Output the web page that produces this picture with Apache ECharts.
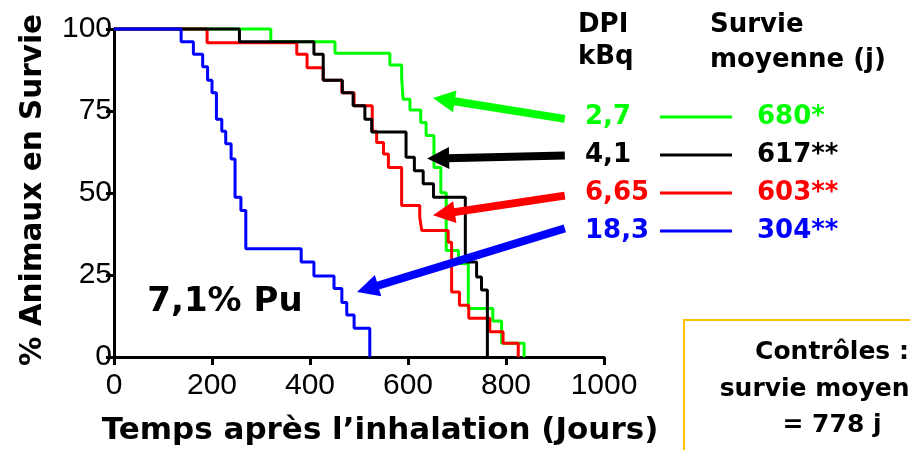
<!DOCTYPE html>
<html><head><meta charset="utf-8">
<script src="https://cdn.jsdelivr.net/npm/echarts@6/dist/echarts.min.js"></script>
<style>html,body{margin:0;padding:0;background:#fff}#c{width:910px;height:450px}</style>
</head><body><div id="c"></div>
<script>
// ---- data ----
const xTicks = [0, 200, 400, 600, 800, 1000];
const yTicks = [0, 25, 50, 75, 100];
const doseLabels = ['2,7', '4,1', '6,65', '18,3'];
const meanSurvival = ['680*', '617**', '603**', '304**'];
const groupColors = ['#00FF00', '#000000', '#FF0000', '#0000FF'];

const days_27  = [0, 320, 451, 563, 587, 590, 604, 626, 637, 653, 667, 678, 703, 723, 773, 791, 837];
const surv_27  = [100, 96.1, 92.6, 89.0, 85.2, 78.6, 75.3, 71.5, 67.5, 57.8, 50.1, 32.5, 28.5, 14.8, 11.0, 4.2, 0];

const days_41  = [0, 256, 408, 427, 466, 488, 512, 526, 596, 613, 631, 652, 717, 740, 750, 762];
const surv_41  = [100, 96.1, 92.3, 84.4, 80.6, 76.6, 72.5, 68.6, 60.9, 56.8, 52.8, 48.7, 29.0, 24.4, 20.4, 0];

const days_665 = [0, 190, 373, 394, 427, 465, 490, 527, 536, 550, 560, 587, 624, 628, 682, 689, 705, 724, 767, 794, 825];
const surv_665 = [100, 95.8, 92.3, 88.2, 84.4, 80.6, 76.6, 68.8, 65.4, 61.9, 57.8, 46.2, 42.6, 38.6, 35.0, 19.8, 15.8, 11.8, 7.7, 4.2, 0];

const days_183 = [0, 137, 162, 181, 191, 200, 209, 220, 228, 239, 247, 259, 269, 382, 408, 449, 465, 475, 490, 522];
const surv_183 = [100, 96.1, 92.3, 88.5, 84.4, 80.6, 72.5, 68.8, 65.0, 60.4, 48.7, 44.7, 33.0, 29.0, 24.7, 20.9, 16.6, 12.8, 8.8, 0];

// arrow annotations [tailDay, tailPct, headDay, headPct]
const arrow_27  = [920, 72.6, 651, 79.0];
const arrow_41  = [920, 61.4, 639, 60.5];
const arrow_665 = [920, 49.2, 651, 43.2];
const arrow_183 = [920, 39.2, 496, 19.8];

// ---- build ----
const zip = (a, b) => a.map((v, i) => [v, b[i]]);
const groups = [
  {days: days_27, surv: surv_27, color: groupColors[0], arrow: arrow_27},
  {days: days_665, surv: surv_665, color: groupColors[2], arrow: arrow_665},
  {days: days_41, surv: surv_41, color: groupColors[1], arrow: arrow_41},
  {days: days_183, surv: surv_183, color: groupColors[3], arrow: arrow_183}
];

const chart = echarts.init(document.getElementById('c'), null, {renderer: 'canvas'});
const tickFont = 'Liberation Sans, Arial, sans-serif';
const boldFont = 'DejaVu Sans, sans-serif';

chart.setOption({
  animation: false,
  backgroundColor: '#fff',
  grid: {left: 114, right: 306, top: 29, bottom: 93},
  xAxis: {
    type: 'value', min: xTicks[0], max: xTicks[xTicks.length - 1], interval: 200,
    axisLine: {lineStyle: {color: '#000', width: 3}},
    axisTick: {length: 8, lineStyle: {color: '#000', width: 3}},
    axisLabel: {fontSize: 30, color: '#000', fontFamily: tickFont, margin: 14, formatter: v => String(v)},
    splitLine: {show: false}
  },
  yAxis: {
    type: 'value', min: yTicks[0], max: yTicks[yTicks.length - 1], interval: 25,
    axisLine: {show: true, lineStyle: {color: '#000', width: 3}},
    axisTick: {show: true, length: 8, lineStyle: {color: '#000', width: 3}},
    axisLabel: {fontSize: 30, color: '#000', fontFamily: tickFont, margin: 2, formatter: v => String(v)},
    splitLine: {show: false}
  },
  series: groups.map(g => ({
    type: 'line', step: 'end', clip: false, symbol: 'none',
    data: zip(g.days, g.surv),
    lineStyle: {color: g.color, width: 3}
  }))
});

// annotations
const P = (x, y) => chart.convertToPixel({gridIndex: 0}, [x, y]);
const gfx = [];
function arrow(a, color) {
  const t = P(a[0], a[1]), h = P(a[2], a[3]);
  const dx = h[0] - t[0], dy = h[1] - t[1], L = Math.hypot(dx, dy);
  const ux = dx / L, uy = dy / L, nx = -uy, ny = ux;
  const hl = 22, hw = 11;
  const bx = h[0] - ux * hl, by = h[1] - uy * hl;
  gfx.push({type: 'line', shape: {x1: t[0], y1: t[1], x2: bx + ux * 2, y2: by + uy * 2}, style: {stroke: color, lineWidth: 8}, z: 10});
  gfx.push({type: 'polygon', shape: {points: [[h[0], h[1]], [bx + nx * hw, by + ny * hw], [bx - nx * hw, by - ny * hw]]}, style: {fill: color}, z: 10});
}
groups.forEach(g => arrow(g.arrow, g.color));

// axis titles
gfx.push({type: 'text', x: 33, y: 190, rotation: Math.PI / 2,
  style: {text: '% Animaux en Survie', font: 'bold 29.5px ' + boldFont, fill: '#000', align: 'center', verticalAlign: 'middle'}});
gfx.push({type: 'text', x: 380, y: 431,
  style: {text: 'Temps après l\u2019inhalation (Jours)', font: 'bold 31px ' + boldFont, fill: '#000', align: 'center', verticalAlign: 'middle'}});

// legend headers
gfx.push({type: 'text', x: 578, y: 25, style: {text: 'DPI', font: 'bold 26px ' + boldFont, fill: '#000', verticalAlign: 'middle'}});
gfx.push({type: 'text', x: 578, y: 57, style: {text: 'kBq', font: 'bold 26px ' + boldFont, fill: '#000', verticalAlign: 'middle'}});
gfx.push({type: 'text', x: 710, y: 25, style: {text: 'Survie', font: 'bold 26px ' + boldFont, fill: '#000', verticalAlign: 'middle'}});
gfx.push({type: 'text', x: 710, y: 60, style: {text: 'moyenne (j)', font: 'bold 26px ' + boldFont, fill: '#000', verticalAlign: 'middle'}});

const rowY = [117, 155, 193, 231];
doseLabels.forEach((d, i) => {
  const c = groupColors[i];
  gfx.push({type: 'text', x: 585, y: rowY[i], style: {text: d, font: 'bold 26px ' + boldFont, fill: c, verticalAlign: 'middle'}});
  gfx.push({type: 'line', shape: {x1: 660, y1: rowY[i], x2: 732, y2: rowY[i]}, style: {stroke: c, lineWidth: 3}});
  gfx.push({type: 'text', x: 757, y: rowY[i], style: {text: meanSurvival[i], font: 'bold 26px ' + boldFont, fill: c, verticalAlign: 'middle'}});
});

gfx.push({type: 'text', x: 225, y: 302, style: {text: '7,1% Pu', font: 'bold 34px ' + boldFont, fill: '#000', align: 'center', verticalAlign: 'middle'}});

// controls box
gfx.push({type: 'rect', shape: {x: 684, y: 320, width: 300, height: 200}, style: {fill: '#fff', stroke: '#FFC000', lineWidth: 2}});
gfx.push({type: 'text', x: 832, y: 352, style: {text: 'Contrôles :', font: 'bold 25px ' + boldFont, fill: '#000', align: 'center', verticalAlign: 'middle'}});
gfx.push({type: 'text', x: 832, y: 389, style: {text: 'survie moyenne', font: 'bold 25px ' + boldFont, fill: '#000', align: 'center', verticalAlign: 'middle'}});
gfx.push({type: 'text', x: 832, y: 425, style: {text: '= 778 j', font: 'bold 25px ' + boldFont, fill: '#000', align: 'center', verticalAlign: 'middle'}});

chart.setOption({graphic: gfx});
</script>
</body></html>
